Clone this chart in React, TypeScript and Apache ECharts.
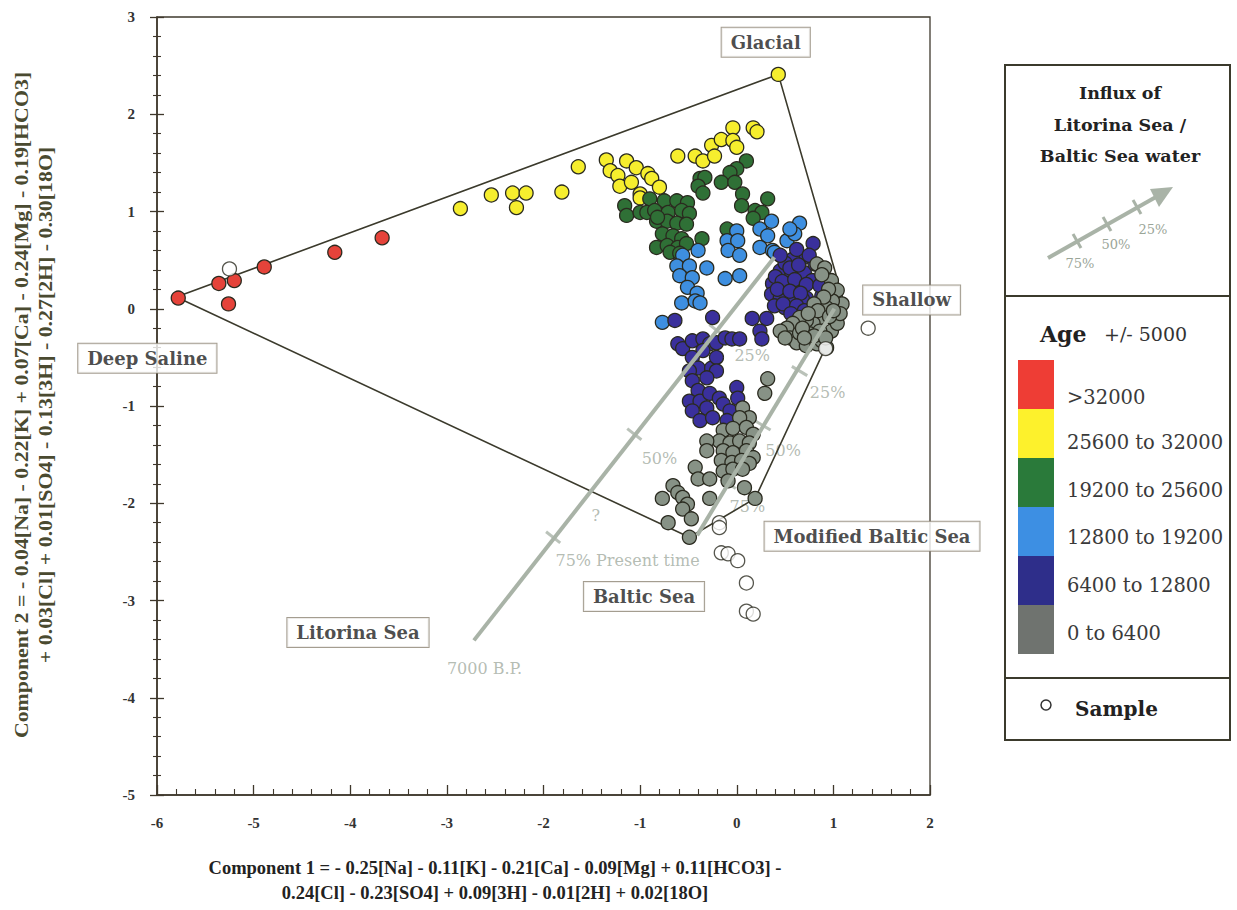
import React, { useEffect, useRef } from "react";
import * as echarts from "echarts";

// ---- data (Component 1, Component 2) ----
const AGE_GT_32000 = [
  [-5.78, 0.11], [-5.36, 0.26], [-5.2, 0.29], [-5.26, 0.05], [-4.89, 0.43], [-4.16, 0.58], [-3.67, 0.73],
];
const AGE_25600_32000 = [
  [0.43, 2.41], [-2.86, 1.03], [-2.54, 1.17], [-2.32, 1.19], [-2.18, 1.19], [-2.28, 1.04], [-1.81, 1.2],
  [-1.64, 1.46], [-1.35, 1.53], [-1.31, 1.42], [-1.23, 1.37], [-1.21, 1.26], [-1.14, 1.52], [-1.09, 1.3],
  [-1.04, 1.45], [-1.0, 1.18], [-0.92, 1.39], [-0.88, 1.34], [-0.8, 1.25], [-1.0, 1.14], [-0.61, 1.57],
  [-0.43, 1.57], [-0.35, 1.52], [-0.26, 1.68], [-0.23, 1.57], [-0.16, 1.74], [-0.04, 1.86], [-0.04, 1.73],
  [0.0, 1.66], [0.17, 1.86], [0.21, 1.82],
];
const AGE_19200_25600 = [
  [0.1, 1.52], [0.0, 1.44], [-0.07, 1.4], [-0.38, 1.34], [-0.33, 1.35], [-0.4, 1.26], [-0.35, 1.19],
  [-0.16, 1.3], [-0.02, 1.3], [0.06, 1.18], [0.05, 1.06], [0.32, 1.13], [0.19, 1.01], [0.26, 0.99],
  [0.17, 0.93], [-0.1, 0.82], [-0.36, 0.72], [-1.16, 1.06], [-1.14, 0.96], [-1.0, 0.99], [-0.9, 1.13],
  [-0.75, 1.11], [-0.62, 1.11], [-0.51, 1.09], [-0.93, 0.99], [-0.85, 1.01], [-0.71, 0.99], [-0.57, 1.01],
  [-0.49, 0.98], [-0.83, 0.9], [-0.72, 0.9], [-0.62, 0.88], [-0.52, 0.87], [-0.77, 0.77], [-0.66, 0.75],
  [-0.57, 0.72], [-0.83, 0.63], [-0.72, 0.65], [-0.61, 0.63], [-0.52, 0.67], [-0.69, 0.58], [-0.59, 0.57],
  [-0.82, 0.94],
];
const AGE_12800_19200 = [
  [0.0, 0.8], [-0.1, 0.7], [0.01, 0.7], [-0.09, 0.6], [0.03, 0.55], [-0.12, 0.31], [0.03, 0.34],
  [0.36, 0.9], [0.65, 0.88], [0.24, 0.82], [0.32, 0.75], [0.24, 0.63], [0.37, 0.6], [0.52, 0.7],
  [0.6, 0.77], [0.55, 0.82], [0.39, 0.58], [-0.4, 0.6], [-0.56, 0.55], [-0.31, 0.42], [-0.62, 0.44],
  [-0.49, 0.44], [-0.59, 0.34], [-0.46, 0.32], [-0.51, 0.22], [-0.41, 0.16], [-0.57, 0.06], [-0.43, 0.08],
  [-0.38, 0.06], [-0.77, -0.14],
];
const AGE_6400_12800 = [
  [0.79, 0.67], [0.68, 0.52], [0.58, 0.51], [0.45, 0.39], [0.57, 0.36], [0.7, 0.37], [0.81, 0.46],
  [0.37, 0.26], [0.52, 0.26], [0.65, 0.22], [0.78, 0.29], [0.36, 0.15], [0.45, 0.11], [0.5, 0.01],
  [0.58, 0.11], [0.72, 0.11], [0.79, 0.01], [0.88, 0.13], [0.39, 0.03], [0.62, 0.61], [0.5, 0.47],
  [0.68, 0.1], [0.45, 0.55], [0.55, 0.42], [0.64, 0.45], [0.4, 0.33], [0.47, 0.28], [0.6, 0.3],
  [0.72, 0.25], [0.42, 0.2], [0.55, 0.18], [0.66, 0.16], [0.48, 0.05], [0.62, 0.03], [0.7, -0.02],
  [0.56, -0.05], [0.86, 0.24], [0.75, 0.55],
  [0.16, -0.1], [0.31, -0.1], [0.24, -0.23], [0.26, -0.31], [-0.25, -0.09], [-0.64, -0.12],
  [-0.61, -0.36], [-0.56, -0.41], [-0.46, -0.33], [-0.35, -0.31], [-0.28, -0.36], [-0.21, -0.35],
  [-0.12, -0.3], [-0.05, -0.31], [0.03, -0.31], [-0.35, -0.43], [-0.46, -0.5], [-0.4, -0.61],
  [-0.49, -0.64], [-0.26, -0.61], [-0.21, -0.5], [-0.21, -0.64], [-0.46, -0.74], [-0.31, -0.71],
  [-0.4, -0.84], [-0.49, -0.95], [-0.38, -0.95], [-0.28, -0.87], [-0.18, -0.92], [-0.46, -1.05],
  [-0.31, -1.02], [-0.14, -0.98], [0.0, -0.81], [0.01, -0.92], [-0.07, -1.05], [-0.38, -1.15],
  [-0.25, -1.12], [-0.1, -1.15],
];
const AGE_0_6400 = [
  [0.83, 0.46], [0.91, 0.42], [0.98, 0.29], [1.04, 0.19], [1.09, 0.05], [0.99, 0.08], [0.93, 0.01],
  [0.86, -0.09], [0.79, -0.15], [0.72, -0.12], [0.65, -0.09], [0.58, -0.15], [0.52, -0.2], [0.45, -0.23],
  [0.55, -0.3], [0.62, -0.35], [0.72, -0.38], [0.83, -0.36], [0.88, -0.33], [0.93, -0.4], [0.76, -0.26],
  [0.98, -0.23], [1.04, -0.15], [1.07, -0.05], [0.86, -0.23], [0.65, -0.25], [0.88, 0.35], [0.95, 0.2],
  [0.9, 0.12], [0.8, 0.05], [0.84, -0.02], [0.96, -0.08], [0.74, -0.05], [0.68, -0.2], [0.8, -0.28],
  [0.92, -0.3], [1.0, -0.02], [0.7, -0.3], [0.5, -0.3],
  [0.32, -0.72], [0.29, -0.87],
  [0.06, -1.02], [0.13, -1.12], [0.03, -1.12], [-0.14, -1.25], [-0.04, -1.23], [0.1, -1.22], [0.17, -1.29],
  [-0.18, -1.36], [-0.07, -1.38], [0.03, -1.36], [0.13, -1.38], [-0.14, -1.46], [-0.04, -1.48], [0.1, -1.46],
  [0.17, -1.53], [-0.16, -1.56], [-0.05, -1.58], [0.05, -1.56], [0.13, -1.59], [-0.14, -1.67], [-0.04, -1.65],
  [0.06, -1.65], [-0.31, -1.36], [-0.31, -1.46], [-0.43, -1.63], [-0.4, -1.75], [-0.28, -1.75], [-0.09, -1.77],
  [-0.66, -1.82], [-0.61, -1.89], [-0.56, -1.94], [-0.77, -1.95], [-0.51, -2.01], [-0.56, -2.06],
  [-0.47, -2.16], [-0.71, -2.2], [-0.49, -2.35], [-0.28, -1.95], [0.08, -1.84], [0.19, -1.95],
];
const SAMPLES = [
  [-5.25, 0.41], [1.36, -0.2], [0.92, -0.41], [-0.18, -2.2], [-0.18, -2.25], [-0.16, -2.51], [-0.09, -2.52],
  [0.01, -2.59], [0.1, -2.82], [0.1, -3.11], [0.17, -3.14],
];
const MIXING_POLYGON = [
  [-5.8, 0.12], [0.43, 2.41], [1.12, 0.03], [0.19, -1.95], [-0.49, -2.35], [-5.8, 0.12],
];
const LITORINA_ARROW = [[-2.72, -3.41], [0.39, 0.53]];
const LITORINA_TICKS = [[-1.9, -2.35], [-1.06, -1.29], [-0.21, -0.22]];
const BALTIC_ARROW = [[-0.41, -2.33], [1.01, 0.0]];
const BALTIC_TICKS = [[-0.09, -1.8], [0.27, -1.2], [0.65, -0.64]];
const END_MEMBERS = ["Glacial", "Shallow", "Deep Saline", "Modified Baltic Sea", "Baltic Sea", "Litorina Sea"];
const END_MEMBER_POS = [[0.3, 2.74], [1.81, 0.09], [-6.1, -0.51], [1.4, -2.34], [-0.96, -2.96], [-3.92, -3.33]];
const NOTES = ["25%", "50%", "75% Present time", "?", "7000 B.P.", "25%", "50%", "75%"];
const NOTE_POS = [[0.16, -0.48], [-0.8, -1.54], [-1.13, -2.59], [-1.46, -2.13], [-2.61, -3.7], [0.94, -0.86], [0.48, -1.46], [0.11, -2.03]];
const AGE_CLASSES = [">32000", "25600 to 32000", "19200 to 25600", "12800 to 19200", "6400 to 12800", "0 to 6400"];
const POINT_COLORS = ["#e5433a", "#f6ee2e", "#2f7036", "#3e8fe0", "#3a309c", "#879286"];
const LEGEND_COLORS = ["#ee3d35", "#fdf12c", "#2a7a3a", "#3d8fe3", "#2e2e8a", "#6f736f"];
const X_TITLE = [
  "Component 1 = - 0.25[Na] - 0.11[K] - 0.21[Ca] - 0.09[Mg] + 0.11[HCO3] -",
  "0.24[Cl] - 0.23[SO4] + 0.09[3H] - 0.01[2H] + 0.02[18O]",
];
const Y_TITLE = [
  "Component 2 = - 0.04[Na] - 0.22[K] + 0.07[Ca] - 0.24[Mg] - 0.19[HCO3]",
  "+ 0.03[Cl] + 0.01[SO4] - 0.13[3H] - 0.27[2H] - 0.30[18O]",
];

const SERIF = '"Liberation Serif", "Times New Roman", serif';
const WIDE = '"DejaVu Serif", serif';
const LIGHT = "#a9b3a7";
const EDGE = "#2a2a1f";
const AXIS = "#3f382c";

function txt(text: string, x: number, y: number, size: number, opts: any = {}) {
  return {
    type: "text",
    x,
    y,
    rotation: opts.rotation || 0,
    scaleX: opts.scaleX || 1,
    z: 20,
    style: {
      text,
      fill: opts.color || "#222",
      fontSize: size,
      fontFamily: opts.family || WIDE,
      fontWeight: opts.bold ? "bold" : "normal",
      align: opts.align || "center",
      verticalAlign: "middle",
      textAlign: opts.align || "center",
      textVerticalAlign: "middle",
    },
  };
}

function tickAxis(kind: "x" | "y", offset: number, major: number, minor: number) {
  const base: any = {
    type: "value",
    min: kind === "x" ? -6 : -5,
    max: kind === "x" ? 2 : 3,
    interval: 1,
    position: kind === "x" ? "bottom" : "left",
    offset,
    axisLine: { show: false, onZero: false },
    axisLabel: { show: false },
    splitLine: { show: false },
    axisTick: { show: major > 0, inside: false, length: major, lineStyle: { color: AXIS, width: 1.3 } },
    minorTick: { show: minor > 0, splitNumber: 5, length: minor, lineStyle: { color: AXIS, width: 1.1 } },
  };
  return base;
}

export default function App() {
  const ref = useRef<HTMLDivElement>(null);
  useEffect(() => {
    if (!ref.current) return;
    const chart = echarts.init(ref.current, undefined, { renderer: "svg" });
    const pointSeries = [AGE_GT_32000, AGE_25600_32000, AGE_19200_25600, AGE_12800_19200, AGE_6400_12800, AGE_0_6400].map(
      (d, i) => ({
        type: "scatter",
        name: AGE_CLASSES[i],
        data: d,
        symbol: "circle",
        symbolSize: 14,
        z: 4,
        itemStyle: { color: POINT_COLORS[i], borderColor: EDGE, borderWidth: 1.3, opacity: 1 },
        emphasis: { disabled: true },
      })
    );
    const arrowSeries = (arrow: number[][], ticks: number[][], angle: number) => ({
      type: "scatter",
      z: 1,
      silent: true,
      data: ticks.map((t) => ({ value: t, symbolRotate: angle })),
      symbol: "rect",
      symbolSize: [3, 18],
      itemStyle: { color: LIGHT },
      markLine: {
        silent: true,
        symbol: ["none", "none"],
        lineStyle: { color: LIGHT, width: 4, type: "solid" },
        label: { show: false },
        emphasis: { disabled: true },
        data: [[{ coord: arrow[0] }, { coord: arrow[1] }]],
      },
    });

    const legendGraphic: any[] = [
      { type: "rect", shape: { x: 1005, y: 65, width: 225, height: 231 }, style: { fill: "#fff", stroke: "#3b3a2c", lineWidth: 2 } },
      { type: "rect", shape: { x: 1005, y: 296, width: 225, height: 382 }, style: { fill: "#fff", stroke: "#3b3a2c", lineWidth: 2 } },
      { type: "rect", shape: { x: 1005, y: 678, width: 225, height: 62 }, style: { fill: "#fff", stroke: "#3b3a2c", lineWidth: 2 } },
      txt("Influx of", 1120, 93, 17.5, { bold: true }),
      txt("Litorina Sea /", 1120, 125, 17.5, { bold: true }),
      txt("Baltic Sea water", 1120, 156, 17.5, { bold: true }),
      { type: "line", shape: { x1: 1048, y1: 258, x2: 1163, y2: 193 }, style: { stroke: LIGHT, lineWidth: 4 } },
      { type: "polygon", shape: { points: [[1173, 187], [1159, 207], [1150, 189]] }, style: { fill: LIGHT } },
      { type: "line", shape: { x1: 1073, y1: 234, x2: 1081, y2: 248 }, style: { stroke: LIGHT, lineWidth: 3 } },
      { type: "line", shape: { x1: 1103, y1: 217, x2: 1111, y2: 231 }, style: { stroke: LIGHT, lineWidth: 3 } },
      { type: "line", shape: { x1: 1133, y1: 200, x2: 1141, y2: 214 }, style: { stroke: LIGHT, lineWidth: 3 } },
      txt("75%", 1080, 263, 13, { color: "#9aa598" }),
      txt("50%", 1116, 244, 13, { color: "#9aa598" }),
      txt("25%", 1153, 229, 13, { color: "#9aa598" }),
      txt("Age", 1040, 334, 22, { bold: true, align: "left" }),
      txt("+/- 5000", 1104, 334, 19, { align: "left", color: "#333" }),
      txt("Sample", 1075, 709, 20, { bold: true, align: "left" }),
      { type: "circle", shape: { cx: 1046, cy: 705, r: 5 }, style: { fill: "#fff", stroke: "#333", lineWidth: 1.5 } },
    ];
    LEGEND_COLORS.forEach((c, i) => {
      legendGraphic.push({
        type: "rect",
        shape: { x: 1018, y: 360 + i * 49, width: 36, height: 49 },
        style: { fill: c },
      });
    });
    const labelY = [397, 442, 490, 537, 585, 633];
    AGE_CLASSES.forEach((t, i) => {
      legendGraphic.push(txt(t, 1067, labelY[i], 19.5, { align: "left", color: "#3a3a3a" }));
    });
    legendGraphic.push(txt(X_TITLE[0], 495, 868, 18.5, { bold: true, family: SERIF }));
    legendGraphic.push(txt(X_TITLE[1], 495, 893, 18.5, { bold: true, family: SERIF }));
    legendGraphic.push(txt(Y_TITLE[0], 22, 405, 19, { bold: true, family: SERIF, rotation: Math.PI / 2, scaleX: 1.15, color: "#4a4a30" }));
    legendGraphic.push(txt(Y_TITLE[1], 46, 405, 19, { bold: true, family: SERIF, rotation: Math.PI / 2, scaleX: 1.15, color: "#4a4a30" }));

    const option: any = {
      animation: false,
      backgroundColor: "#fff",
      grid: { left: 157, top: 17, width: 773, height: 778, show: true, borderColor: "#3f3a2e", borderWidth: 1.3 },
      xAxis: [
        {
          type: "value",
          min: -6,
          max: 2,
          interval: 1,
          position: "bottom",
          axisLine: { show: true, onZero: false, lineStyle: { color: AXIS, width: 1.6 } },
          axisTick: { show: false },
          minorTick: { show: false },
          splitLine: { show: false },
          axisLabel: { margin: 20, fontFamily: SERIF, fontWeight: "bold", fontSize: 15, color: "#333" },
        },
        tickAxis("x", -10, 10, 0),
        tickAxis("x", -6, 0, 6),
      ],
      yAxis: [
        {
          type: "value",
          min: -5,
          max: 3,
          interval: 1,
          position: "left",
          axisLine: { show: true, onZero: false, lineStyle: { color: AXIS, width: 1.6 } },
          axisTick: { show: false },
          minorTick: { show: false },
          splitLine: { show: false },
          axisLabel: { margin: 22, fontFamily: SERIF, fontWeight: "bold", fontSize: 15, color: "#333" },
        },
        tickAxis("y", -7, 14, 0),
        tickAxis("y", -4, 0, 8),
      ],
      graphic: legendGraphic,
      series: [
        arrowSeries(LITORINA_ARROW, LITORINA_TICKS, 52),
        arrowSeries(BALTIC_ARROW, BALTIC_TICKS, 59),
        {
          type: "scatter",
          z: 1,
          silent: true,
          clip: false,
          symbolSize: 1,
          itemStyle: { color: "rgba(0,0,0,0)" },
          data: NOTES.map((n, i) => ({ name: n, value: NOTE_POS[i] })),
          label: {
            show: true,
            position: "inside",
            formatter: (p: any) => p.name,
            fontFamily: WIDE,
            fontSize: 16,
            color: "#a2ab9f",
          },
        },
        {
          type: "line",
          z: 2,
          silent: true,
          data: MIXING_POLYGON,
          symbol: "none",
          lineStyle: { color: "#3b3a2c", width: 1.6 },
        },
        ...pointSeries,
        {
          type: "scatter",
          name: "Sample",
          z: 5,
          data: SAMPLES,
          symbolSize: 14,
          itemStyle: { color: "#fff", borderColor: EDGE, borderWidth: 1.3 },
        },
        {
          type: "scatter",
          z: 6,
          silent: true,
          clip: false,
          symbolSize: 1,
          itemStyle: { color: "rgba(0,0,0,0)" },
          data: END_MEMBERS.map((n, i) => ({ name: n, value: END_MEMBER_POS[i] })),
          label: {
            show: true,
            position: "inside",
            formatter: (p: any) => p.name,
            fontFamily: WIDE,
            fontWeight: "bold",
            fontSize: 18,
            color: "#1e1e1e",
            backgroundColor: "#fff",
            borderColor: "#8d8574",
            borderWidth: 1,
            padding: [6, 9, 5, 9],
          },
        },
      ],
    };
    chart.setOption(option);
    return () => chart.dispose();
  }, []);
  return (
    <div
      ref={ref}
      style={{ position: "fixed", left: 0, top: 0, width: 1237, height: 910, background: "#fff" }}
    />
  );
}
